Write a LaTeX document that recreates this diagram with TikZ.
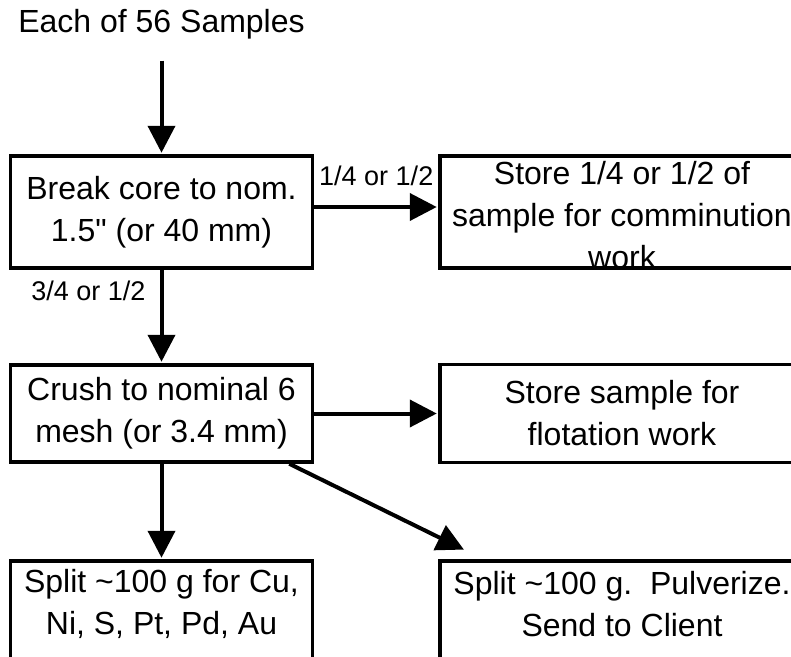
\documentclass[tikz,border=0pt]{standalone}
\usepackage{fontspec}
\setmainfont{Liberation Sans}
\usetikzlibrary{arrows.meta}

\begin{document}
\begin{tikzpicture}[x=1pt,y=-1pt,->,>={Triangle[length=27pt,width=27pt]},
    shorten >=1.5pt,line width=3.5pt,node distance=201.5pt,
    box/.style={draw,font=\fontsize{32}{42}\selectfont,align=center,
      minimum width=302pt,minimum height=112pt,inner sep=0pt},
    wbox/.style={box,minimum width=364pt},
    note/.style={font=\fontsize{32}{42}\selectfont,align=center,inner sep=0pt},
    splitlbl/.style={font=\fontsize{27}{32}\selectfont,inner sep=0pt}]
    \useasboundingbox (0,0) rectangle (791,656);
    \clip (0,0) rectangle (791,656);
    \node[note] (src) at (161.5,24) {Each of 56 Samples};
    \node[box] (brk) at (161.5,212) {Break core to nom.\\1.5\textquotedbl{} (or 40 mm)};
    \node[wbox] (st1) [node distance=460.5pt, right of=brk] {};
    \node[note] (st1txt) [yshift=-3pt] at (st1.center) {Store 1/4 or 1/2 of\\sample for comminution\\work};
    \node[box, minimum height=97pt] (crush) [below of=brk] {Crush to nominal 6\\mesh (or 3.4 mm)};
    \node[wbox, minimum height=98pt] (st2) [node distance=460.5pt, right of=crush] {Store sample for\\flotation work};
    \node[box, minimum height=108pt] (cu) [below of=crush] {};
    \node[note] (cutxt) [yshift=11pt] at (cu.center) {Split \textasciitilde100 g for Cu,\\Ni, S, Pt, Pd, Au};
    \node[wbox, minimum height=108pt] (cl) [node distance=460.5pt, right of=cu] {};
    \node[note] (cltxt) [yshift=11pt] at (cl.center) {Split \textasciitilde100 g.\ \ Pulverize.\\Send to Client};
    \path[line width=4pt] (src) edge [shorten <=20pt] (brk)
    ([yshift=5pt]brk.east) edge node [splitlbl, above=19pt] {1/4 or 1/2} ([yshift=5pt]st1.west)
    (brk) edge node [splitlbl, pos=0, anchor=north east, xshift=-14pt, yshift=-9pt] {3/4 or 1/2} (crush)
    (crush)
    edge (st2)
    edge (cu)
    ([xshift=-25pt]crush.south east) edge ([xshift=27pt, yshift=9pt]cl.north west);
\end{tikzpicture}
\end{document}
